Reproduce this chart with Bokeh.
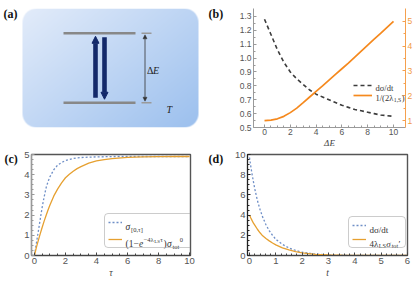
import numpy as np
from bokeh.plotting import figure
from bokeh.models import (Range1d, LinearAxis, FixedTicker, Label, Legend, LegendItem,
                          Arrow, NormalHead, NumeralTickFormatter)
from bokeh.layouts import row, column
from bokeh.embed import file_html
from bokeh.resources import INLINE

# ---------------- data ----------------
# (b)
b_dE = [0, 0.5, 1, 1.5, 2, 2.5, 3, 3.5, 4, 4.5, 5, 5.5, 6, 6.5, 7, 7.5, 8, 8.5, 9, 9.5, 10]
b_dsigma_dt = [1.28, 1.17, 1.06, 0.97, 0.90, 0.85, 0.81, 0.77, 0.74, 0.72, 0.70, 0.68, 0.66,
               0.645, 0.63, 0.62, 0.61, 0.60, 0.59, 0.585, 0.58]
b_inv_2lambda = [1.00, 1.02, 1.07, 1.17, 1.32, 1.50, 1.72, 1.95, 2.18, 2.40, 2.63, 2.86, 3.09,
                 3.32, 3.56, 3.80, 4.04, 4.28, 4.52, 4.76, 5.00]
b_x_ticks = [0, 2, 4, 6, 8, 10]
b_left_ticks = [0.5, 0.6, 0.7, 0.8, 0.9, 1.0, 1.1, 1.2, 1.3]
b_right_ticks = [1, 2, 3, 4, 5]

# (c)
c_tau = [0, 0.125, 0.25, 0.375, 0.5, 0.625, 0.75, 0.875, 1, 1.25, 1.5, 1.75, 2, 2.25, 2.5,
         2.75, 3, 3.5, 4, 4.5, 5, 6, 7, 8, 9, 10]
c_sigma = [0, 0.6, 1.2, 1.8, 2.4, 2.9, 3.35, 3.65, 3.9, 4.25, 4.48, 4.6, 4.7, 4.75, 4.8,
           4.83, 4.85, 4.87, 4.88, 4.89, 4.9, 4.9, 4.9, 4.9, 4.9, 4.9]
c_approx = [0, 0.4, 0.75, 1.08, 1.4, 1.7, 1.98, 2.25, 2.5, 2.95, 3.3, 3.6, 3.85, 4.02, 4.17,
            4.3, 4.4, 4.57, 4.68, 4.75, 4.8, 4.86, 4.88, 4.89, 4.9, 4.9]
c_x_ticks = [0, 2, 4, 6, 8, 10]
c_y_ticks = [0, 1, 2, 3, 4, 5]

# (d)
d_t = [0, 0.05, 0.1, 0.15, 0.2, 0.3, 0.4, 0.5, 0.625, 0.75, 0.875, 1, 1.25, 1.5, 1.75, 2,
       2.5, 3, 3.5, 4, 5, 6]
d_dsigma_dt = [9.7, 8.8, 8.0, 7.3, 6.6, 5.45, 4.55, 3.8, 3.05, 2.45, 2.0, 1.6, 1.1, 0.75, 0.5,
               0.32, 0.14, 0.06, 0.03, 0.01, 0, 0]
d_approx = [4.0, 3.72, 3.45, 3.2, 3.0, 2.6, 2.25, 1.95, 1.68, 1.45, 1.24, 1.05, 0.75, 0.55, 0.38,
            0.25, 0.12, 0.06, 0.03, 0.01, 0, 0]
d_x_ticks = [0, 1, 2, 3, 4, 5, 6]
d_y_ticks = [0, 2, 4, 6, 8, 10]

# ---------------- style ----------------
SERIF = "Liberation Serif"
SANS = "Liberation Sans"
TICK_COLOR = "#555555"
NAVY = "#13296a"
BLUE = "#6F8FC7"
ORANGE_C = "#E6A030"
ORANGE_B = "#F5891E"
ORANGE_AX = "#F5A04E"

EM = {'(': 0.333, ')': 0.333, '[': 0.333, ']': 0.333, '/': 0.278, ',': 0.25, 'd': 0.5,
      't': 0.278, 'e': 0.444, 'o': 0.5, 'L': 0.611, 'S': 0.556, 'E': 0.611, 'T': 0.611,
      '−': 0.564, '′': 0.25, 'σ': 0.55, 'λ': 0.5, 'τ': 0.44, 'Δ': 0.61, ' ': 0.25}


def tw(s, fs):
    return sum(EM.get(ch, 0.5) for ch in s) * fs


def rich(p, x0, y0, dx, dy, parts, size=9.0, color="#333333"):
    cx = float(dx)
    for part in parts:
        text, kind = part[0], part[1]
        style = part[2] if len(part) > 2 else "normal"
        fs, oy = {"n": (size, 0.0), "sub": (size * 0.68, -size * 0.28),
                  "sup": (size * 0.68, size * 0.42), "supsub": (size * 0.52, size * 0.22)}[kind]
        p.add_layout(Label(x=x0, y=y0, x_offset=cx, y_offset=dy + oy, text=text,
                           text_font=SERIF, text_font_size=f"{fs:.2f}px", text_font_style=style,
                           text_color=color, text_baseline="alphabetic", text_align="left",
                           level="overlay"))
        cx += tw(text, fs) + 0.35


def style_axis(ax, color, size):
    ax.axis_line_color = color
    ax.major_tick_line_color = color
    ax.minor_tick_line_color = color
    ax.major_tick_in = 3
    ax.major_tick_out = 0
    ax.minor_tick_in = 2
    ax.minor_tick_out = 0
    ax.major_label_text_font = SANS
    ax.major_label_text_font_size = size
    ax.major_label_text_color = TICK_COLOR
    ax.major_label_standoff = 2


def axis_title(ax, text, size="9.5px"):
    ax.axis_label = text
    ax.axis_label_text_font = SERIF
    ax.axis_label_text_font_style = "italic"
    ax.axis_label_text_font_size = size
    ax.axis_label_text_color = "#444444"
    ax.axis_label_standoff = 1


def base_fig(w, h, xr, yr, **kw):
    p = figure(width=w, height=h, x_range=xr, y_range=yr, output_backend="svg",
               toolbar_location=None, title=None, **kw)
    p.grid.visible = False
    p.background_fill_color = "white"
    p.border_fill_color = "white"
    return p


def bare_fig(w, h, xr, yr, **kw):
    p = figure(width=w, height=h, x_range=xr, y_range=yr, output_backend="svg",
               toolbar_location=None, title=None, x_axis_location=None,
               y_axis_location=None, **kw)
    p.grid.visible = False
    p.outline_line_color = None
    p.background_fill_color = "white"
    p.border_fill_color = "white"
    return p


def panel_label(p, x, y, text):
    p.add_layout(Label(x=x, y=y, text=text, text_font=SERIF, text_font_style="bold",
                       text_font_size="12px", text_color="#111111",
                       text_baseline="middle", text_align="left"))


def steps(a, b, s):
    n = int(round((b - a) / s))
    return [round(a + i * s, 4) for i in range(n + 1)]


TOP_H, BOT_H = 150, 134
TOP_BT, TOP_BB = 8, 22          # top row frame borders (frame y 8..128)
BOT_BT, BOT_BB = 4, 29          # bottom row frame borders (frame y 154..255)

# ---------------- (a) schematic (page coordinates, y down) ----------------
pa = bare_fig(232, TOP_H, Range1d(0, 232), Range1d(-(TOP_H - TOP_BB), -TOP_BT),
              min_border_left=0, min_border_right=0, min_border_top=TOP_BT,
              min_border_bottom=TOP_BB)


def Y(py):
    return -py


BOX_L, BOX_T, BOX_W, BOX_H, BOX_R = 22, 8, 176, 120, 14
yy, xx = np.mgrid[0:BOX_H, 0:BOX_W]
u = (xx + 0.5) / BOX_W
v = 1 - (yy + 0.5) / BOX_H
t = np.clip(0.55 * u + 0.45 * v, 0, 1)
c0 = np.array([227, 236, 250], dtype=float)
c1 = np.array([156, 192, 238], dtype=float)
rgb = c0 + (c1 - c0) * t[..., None]
pxc = xx + 0.5
pyc = yy + 0.5
ddx = np.maximum(np.maximum(BOX_R - pxc, pxc - (BOX_W - BOX_R)), 0)
ddy = np.maximum(np.maximum(BOX_R - pyc, pyc - (BOX_H - BOX_R)), 0)
alpha = np.clip(BOX_R - np.sqrt(ddx ** 2 + ddy ** 2) + 0.5, 0, 1)
img = np.zeros((BOX_H, BOX_W, 4), dtype=np.uint8)
img[..., :3] = rgb.astype(np.uint8)
img[..., 3] = (alpha * 255).astype(np.uint8)
pa.image_rgba(image=[img.view(np.uint32).reshape(BOX_H, BOX_W)], x=BOX_L,
              y=Y(BOX_T + BOX_H), dw=BOX_W, dh=BOX_H)

LEVEL_TOP, LEVEL_BOT = 33, 103
pa.segment(x0=[63, 63], y0=[Y(LEVEL_TOP), Y(LEVEL_BOT)], x1=[135, 135],
           y1=[Y(LEVEL_TOP), Y(LEVEL_BOT)], line_color="#888888", line_width=2.6)
pa.segment(x0=[141, 141], y0=[Y(LEVEL_TOP), Y(LEVEL_BOT)], x1=[151, 151],
           y1=[Y(LEVEL_TOP), Y(LEVEL_BOT)], line_color="#9a9a9a", line_width=1.4)
pa.add_layout(Arrow(x_start=95, y_start=Y(98), x_end=95, y_end=Y(36), line_width=4.6,
                    line_color=NAVY,
                    end=NormalHead(size=7, fill_color=NAVY, line_color=NAVY, line_width=1)))
pa.add_layout(Arrow(x_start=104, y_start=Y(37), x_end=104, y_end=Y(99.5), line_width=4.6,
                    line_color=NAVY,
                    end=NormalHead(size=7, fill_color=NAVY, line_color=NAVY, line_width=1)))
pa.add_layout(Arrow(x_start=144.5, y_start=Y(34.5), x_end=144.5, y_end=Y(101.5), line_width=0.8,
                    line_color="#333333",
                    start=NormalHead(size=4, fill_color="#333333", line_color="#333333", line_width=0.5),
                    end=NormalHead(size=4, fill_color="#333333", line_color="#333333", line_width=0.5)))
pa.add_layout(Label(x=146.5, y=Y(71), text="Δ", text_font=SERIF, text_font_size="10px",
                    text_color="#222222", text_baseline="middle"))
pa.add_layout(Label(x=152.6, y=Y(71), text="E", text_font=SERIF, text_font_size="10px",
                    text_font_style="italic", text_color="#222222", text_baseline="middle"))
pa.add_layout(Label(x=166, y=Y(110), text="T", text_font=SERIF, text_font_size="10px",
                    text_font_style="italic", text_color="#222222", text_baseline="middle"))
panel_label(pa, 3, Y(14), "(a)")
panel_label(pa, 208, Y(14), "(b)")

# ---------------- (b) ----------------
bx0, bx1, by0, by1 = -0.853, 10.93, 0.5, 1.357
pb = base_fig(183, TOP_H, Range1d(bx0, bx1), Range1d(by0, by1), min_border_left=21,
              min_border_right=10, min_border_top=TOP_BT, min_border_bottom=TOP_BB)
pb.outline_line_color = None
pb.extra_y_ranges = {"inv": Range1d(0.72, 5.52)}
pb.xaxis.ticker = FixedTicker(ticks=b_x_ticks, minor_ticks=steps(0, 10, 0.5))
pb.yaxis.ticker = FixedTicker(ticks=b_left_ticks, minor_ticks=steps(0.5, 1.3, 0.05))
pb.yaxis.formatter = NumeralTickFormatter(format="0.0")
for ax in list(pb.xaxis) + list(pb.yaxis):
    style_axis(ax, "#9a9a9a", "8.5px")
pb.xaxis.major_label_standoff = 1
axis_title(pb.xaxis[0], "ΔE", "9px")
pb.xaxis.axis_label_standoff = 0
ax_r = LinearAxis(y_range_name="inv", ticker=FixedTicker(ticks=b_right_ticks, minor_ticks=steps(1, 5, 0.5)))
style_axis(ax_r, ORANGE_AX, "8.5px")
ax_r.major_label_text_color = "#F29A45"
pb.add_layout(ax_r, "right")

r_ds = pb.line(b_dE, b_dsigma_dt, line_color="#3c3c3c", line_width=1.6, line_dash="4 3")
r_inv = pb.line(b_dE, b_inv_2lambda, y_range_name="inv", line_color=ORANGE_B, line_width=1.7)
leg_b = Legend(items=[LegendItem(label=" ", renderers=[r_ds]), LegendItem(label=" ", renderers=[r_inv])],
               location=(100, 28), padding=0, spacing=2, glyph_width=19, glyph_height=8,
               label_width=30, label_height=8, label_standoff=3, margin=0,
               label_text_font_size="8px", border_line_color=None, background_fill_alpha=0)
pb.add_layout(leg_b)
rich(pb, bx0, by0, 122, 39.4, [("dσ/dt", "n")], size=8.5)
rich(pb, bx0, by0, 122, 29.4, [("1/(2λ", "n"), ("1,S", "sub"), (")", "n")], size=8.5)

# ---------------- (c) ----------------
lab_c = bare_fig(21, BOT_H, Range1d(0, 21), Range1d(-BOT_H, 0), min_border=0)
panel_label(lab_c, 4, -6, "(c)")

cx0, cx1, cy0, cy1 = -0.19, 10.06, 0, 5
pc = base_fig(184, BOT_H, Range1d(cx0, cx1), Range1d(cy0, cy1), min_border_left=8,
              min_border_right=15, min_border_top=BOT_BT, min_border_bottom=BOT_BB)
pc.outline_line_color = "#555555"
pc.outline_line_width = 1.4
pc.xaxis.ticker = FixedTicker(ticks=c_x_ticks, minor_ticks=steps(0, 10, 0.5))
pc.yaxis.ticker = FixedTicker(ticks=c_y_ticks, minor_ticks=steps(0, 5, 0.25))
style_axis(pc.xaxis[0], "#444444", "9.5px")
style_axis(pc.yaxis[0], "#999999", "9.5px")
axis_title(pc.xaxis[0], "τ")
r_cs = pc.line(c_tau, c_sigma, line_color=BLUE, line_width=1.3, line_dash="2 2")
r_ca = pc.line(c_tau, c_approx, line_color=ORANGE_C, line_width=1.3)
leg_c = Legend(items=[LegendItem(label=" ", renderers=[r_cs]), LegendItem(label=" ", renderers=[r_ca])],
               location=(73, 7), padding=3, spacing=7, glyph_width=14, glyph_height=10,
               label_width=64, label_height=10, label_standoff=4, margin=0,
               label_text_font_size="8px", border_line_color="#9a9a9a", border_line_width=1,
               background_fill_alpha=0)
try:
    leg_c.border_radius = 4
except Exception:
    pass
pc.add_layout(leg_c)
rich(pc, cx0, cy0, 94, 29, [("σ", "n", "italic"), ("[0,τ]", "sub")], size=9.5)
rich(pc, cx0, cy0, 94, 12, [("(1−", "n"), ("e", "n", "italic"), ("−4λ", "sup"), ("LS", "supsub"),
                             ("τ", "sup"), (")", "n"), ("σ", "n", "italic"), ("tot", "sub"), ("0", "sup")],
     size=9.5)

# ---------------- (d) ----------------
lab_d = bare_fig(25, BOT_H, Range1d(0, 25), Range1d(-BOT_H, 0), min_border=0)
panel_label(lab_d, 3, -6, "(d)")

dx0, dx1, dy0, dy1 = -0.076, 6.0, 0, 10
pd_ = base_fig(185, BOT_H, Range1d(dx0, dx1), Range1d(dy0, dy1), min_border_left=17,
               min_border_right=8, min_border_top=BOT_BT, min_border_bottom=BOT_BB)
pd_.outline_line_color = "#555555"
pd_.outline_line_width = 1.4
pd_.xaxis.ticker = FixedTicker(ticks=d_x_ticks, minor_ticks=steps(0, 6, 0.2))
pd_.yaxis.ticker = FixedTicker(ticks=d_y_ticks, minor_ticks=steps(0, 10, 0.5))
style_axis(pd_.xaxis[0], "#444444", "9.5px")
style_axis(pd_.yaxis[0], "#222222", "9.5px")
axis_title(pd_.xaxis[0], "t")
r_ds2 = pd_.line(d_t, d_dsigma_dt, line_color=BLUE, line_width=1.3, line_dash="2 2")
r_da = pd_.line(d_t, d_approx, line_color=ORANGE_C, line_width=1.3)
leg_d = Legend(items=[LegendItem(label=" ", renderers=[r_ds2]), LegendItem(label=" ", renderers=[r_da])],
               location=(101, 7), padding=3, spacing=4, glyph_width=14, glyph_height=10,
               label_width=32, label_height=10, label_standoff=4, margin=0,
               label_text_font_size="8px", border_line_color="#9a9a9a", border_line_width=1,
               background_fill_alpha=0)
try:
    leg_d.border_radius = 4
except Exception:
    pass
pd_.add_layout(leg_d)
rich(pd_, dx0, dy0, 122, 26, [("dσ/dt", "n")])
rich(pd_, dx0, dy0, 122, 12, [("4λ", "n"), ("LS", "sub"), ("σ", "n", "italic"), ("tot", "sub"), ("′", "n")])

layout = column(row(pa, pb), row(lab_c, pc, lab_d, pd_))
open("out.html", "w").write(file_html(layout, INLINE, title="chart"))
